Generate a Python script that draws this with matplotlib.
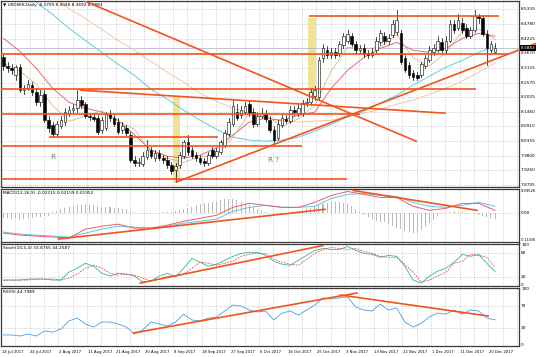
import numpy as np
import matplotlib
matplotlib.use("Agg")
import matplotlib.pyplot as plt
import matplotlib.transforms as mtrans
from matplotlib.patches import Rectangle

plt.rcParams['font.family'] = ['DejaVu Sans']

# ---------------- data ----------------
date_labels = ["14 Jul 2017", "24 Jul 2017", "2 Aug 2017", "11 Aug 2017", "21 Aug 2017",
               "30 Aug 2017", "8 Sep 2017", "18 Sep 2017", "27 Sep 2017", "6 Oct 2017",
               "16 Oct 2017", "25 Oct 2017", "3 Nov 2017", "13 Nov 2017", "22 Nov 2017",
               "1 Dec 2017", "11 Dec 2017", "20 Dec 2017"]
bars_per_label = 7

opens = [8.352, 8.318, 8.311, 8.284, 8.314, 8.228, 8.235, 8.247, 8.220, 8.182,
         8.213, 8.114, 8.096, 8.062, 8.092, 8.107, 8.141, 8.152, 8.160, 8.190,
         8.175, 8.130, 8.126, 8.122, 8.077, 8.084, 8.137, 8.122, 8.107, 8.077,
         8.084, 8.058, 7.963, 7.952, 7.948, 7.975, 8.001, 7.971, 7.990, 7.971,
         7.963, 7.944, 7.926, 7.944, 7.978, 8.031, 8.001, 7.982, 7.971, 7.960,
         7.952, 8.001, 7.978, 7.994, 8.020, 8.062, 8.099, 8.145, 8.133, 8.145,
         8.175, 8.145, 8.099, 8.130, 8.137, 8.114, 8.077, 8.046, 8.096, 8.118,
         8.111, 8.152, 8.141, 8.141, 8.179, 8.182, 8.205, 8.201, 8.348, 8.379,
         8.360, 8.371, 8.367, 8.398, 8.416, 8.432, 8.401, 8.379, 8.386, 8.367,
         8.360, 8.379, 8.409, 8.432, 8.416, 8.435, 8.447, 8.443, 8.348, 8.322,
         8.292, 8.284, 8.284, 8.318, 8.341, 8.371, 8.379, 8.409, 8.379, 8.416,
         8.477, 8.462, 8.484, 8.462, 8.432, 8.454, 8.507, 8.500, 8.439, 8.379,
         8.3709]
highs = [8.364, 8.333, 8.326, 8.322, 8.326, 8.247, 8.265, 8.258, 8.235, 8.228,
         8.228, 8.130, 8.107, 8.111, 8.130, 8.160, 8.167, 8.175, 8.228, 8.205,
         8.182, 8.141, 8.141, 8.133, 8.126, 8.145, 8.152, 8.133, 8.122, 8.107,
         8.096, 8.069, 7.978, 7.971, 7.994, 8.039, 8.012, 8.001, 8.001, 7.982,
         7.978, 7.956, 7.952, 7.994, 8.039, 8.058, 8.012, 7.994, 7.982, 7.971,
         7.994, 8.012, 8.009, 8.039, 8.077, 8.122, 8.190, 8.175, 8.167, 8.182,
         8.190, 8.160, 8.145, 8.160, 8.152, 8.130, 8.092, 8.114, 8.137, 8.133,
         8.167, 8.167, 8.175, 8.190, 8.198, 8.235, 8.243, 8.352, 8.401, 8.394,
         8.386, 8.386, 8.416, 8.443, 8.454, 8.443, 8.416, 8.398, 8.401, 8.379,
         8.386, 8.428, 8.454, 8.447, 8.439, 8.492, 8.530, 8.454, 8.360, 8.333,
         8.303, 8.296, 8.333, 8.360, 8.394, 8.401, 8.432, 8.424, 8.432, 8.492,
         8.492, 8.518, 8.500, 8.477, 8.469, 8.530, 8.518, 8.511, 8.454, 8.416,
         8.4048]
lows = [8.303, 8.296, 8.288, 8.265, 8.220, 8.213, 8.228, 8.209, 8.171, 8.167,
        8.107, 8.069, 8.050, 8.054, 8.084, 8.096, 8.130, 8.141, 8.145, 8.160,
        8.122, 8.114, 8.111, 8.062, 8.065, 8.077, 8.111, 8.092, 8.062, 8.065,
        8.054, 7.956, 7.941, 7.941, 7.941, 7.967, 7.971, 7.960, 7.963, 7.952,
        7.933, 7.910, 7.884, 7.933, 7.971, 7.982, 7.971, 7.960, 7.948, 7.941,
        7.944, 7.971, 7.971, 7.986, 8.012, 8.054, 8.092, 8.114, 8.122, 8.137,
        8.130, 8.088, 8.092, 8.122, 8.107, 8.069, 8.028, 8.039, 8.088, 8.103,
        8.103, 8.133, 8.130, 8.130, 8.167, 8.171, 8.190, 8.190, 8.333, 8.348,
        8.348, 8.348, 8.356, 8.386, 8.405, 8.394, 8.364, 8.367, 8.352, 8.348,
        8.352, 8.367, 8.398, 8.401, 8.401, 8.428, 8.435, 8.326, 8.296, 8.273,
        8.265, 8.265, 8.277, 8.311, 8.333, 8.360, 8.371, 8.367, 8.364, 8.409,
        8.443, 8.454, 8.443, 8.424, 8.424, 8.447, 8.484, 8.432, 8.322, 8.371,
        8.3692]
closes = [8.318, 8.311, 8.303, 8.314, 8.228, 8.235, 8.250, 8.220, 8.182, 8.209,
          8.114, 8.084, 8.062, 8.099, 8.114, 8.145, 8.152, 8.160, 8.190, 8.171,
          8.130, 8.126, 8.118, 8.069, 8.114, 8.137, 8.122, 8.099, 8.069, 8.092,
          8.065, 7.963, 7.952, 7.956, 7.978, 8.001, 7.978, 7.990, 7.971, 7.963,
          7.944, 7.922, 7.941, 7.982, 8.031, 7.994, 7.978, 7.971, 7.956, 7.952,
          7.982, 7.978, 7.997, 8.031, 8.065, 8.107, 8.167, 8.122, 8.152, 8.167,
          8.141, 8.099, 8.130, 8.141, 8.118, 8.077, 8.039, 8.099, 8.122, 8.111,
          8.152, 8.145, 8.160, 8.179, 8.182, 8.220, 8.228, 8.341, 8.386, 8.360,
          8.371, 8.360, 8.401, 8.432, 8.439, 8.401, 8.379, 8.386, 8.364, 8.360,
          8.371, 8.416, 8.443, 8.416, 8.424, 8.477, 8.492, 8.333, 8.303, 8.284,
          8.277, 8.273, 8.326, 8.348, 8.379, 8.386, 8.416, 8.379, 8.416, 8.477,
          8.454, 8.492, 8.454, 8.432, 8.454, 8.507, 8.500, 8.439, 8.386, 8.401,
          8.3883]

price_levels = [8.5335, 8.4780, 8.4225, 8.3670, 8.3115, 8.2570, 8.2025, 8.1460,
                8.0910, 8.0355, 7.9800, 7.9260, 7.8705]

# moving averages, read every 4th bar
ma_step = 4
ma_fast = [8.330, 8.300, 8.250, 8.170, 8.110, 8.130, 8.150, 8.110, 8.080, 7.990,
           7.970, 7.955, 7.975, 7.985, 8.050, 8.140, 8.135, 8.090, 8.120, 8.170,
           8.300, 8.390, 8.385, 8.390, 8.440, 8.350, 8.320, 8.370, 8.450, 8.460,
           8.420]
ma_mid = [8.424, 8.375, 8.311, 8.235, 8.182, 8.160, 8.145, 8.114, 8.058, 8.001,
          7.978, 7.971, 7.982, 8.009, 8.058, 8.107, 8.122, 8.114, 8.133, 8.145,
          8.235, 8.303, 8.352, 8.386, 8.409, 8.379, 8.371, 8.386, 8.424, 8.443,
          8.432]
ma_cyan = [8.651, 8.609, 8.560, 8.515, 8.462, 8.416, 8.371, 8.326, 8.284, 8.231,
           8.194, 8.152, 8.114, 8.080, 8.050, 8.039, 8.035, 8.039, 8.050, 8.073,
           8.099, 8.126, 8.148, 8.179, 8.209, 8.247, 8.281, 8.315, 8.341, 8.371,
           8.394]
ma_slow = [8.700, 8.662, 8.620, 8.579, 8.537, 8.499, 8.458, 8.416, 8.379, 8.337,
           8.296, 8.258, 8.216, 8.186, 8.160, 8.141, 8.122, 8.111, 8.107, 8.111,
           8.114, 8.126, 8.141, 8.156, 8.175, 8.190, 8.213, 8.235, 8.262, 8.296,
           8.330]

# MACD, read every 4th bar; histogram per bar
macd_main = [-0.0762, -0.0838, -0.0876, -0.0914, -0.0952, -0.0609, -0.0495, -0.0419,
             -0.0571, -0.0571, -0.0457, -0.0305, -0.0190, -0.0076, 0.0228, 0.0381,
             0.0305, 0.0228, 0.0228, 0.0419, 0.0685, 0.0838, 0.0724, 0.0609, 0.0609,
             0.0267, 0.0114, 0.0190, 0.0381, 0.0381, 0.0114]
macd_signal = [-0.0724, -0.0800, -0.0838, -0.0876, -0.0914, -0.0762, -0.0609, -0.0495,
               -0.0533, -0.0571, -0.0495, -0.0381, -0.0305, -0.0228, 0.0076, 0.0228,
               0.0305, 0.0228, 0.0228, 0.0267, 0.0571, 0.0724, 0.0762, 0.0685, 0.0647,
               0.0419, 0.0267, 0.0228, 0.0305, 0.0419, 0.0267]
macd_hist = [-0.018, -0.020, -0.022, -0.020, -0.024, -0.022, -0.020, -0.018, -0.016, -0.015,
             -0.012, -0.010,
             0.005, 0.010, 0.015, 0.020, 0.024, 0.028, 0.030, 0.032, 0.034, 0.032,
             0.030, 0.028, 0.026, 0.025, 0.024, 0.022, 0.020, 0.018, 0.015, 0.010, 0.006,
             0.002, -0.002, -0.004, -0.003, 0.000, 0.003, 0.004, 0.005, 0.006, 0.008,
             0.012, 0.016, 0.020, 0.025, 0.030, 0.034, 0.038, 0.041, 0.044, 0.047,
             0.050, 0.053, 0.055, 0.054, 0.050, 0.045, 0.040, 0.033, 0.025, 0.018, 0.012,
             0.006, 0.002, -0.004, -0.006, -0.004, -0.002, 0.000, 0.003, 0.006,
             0.010, 0.015, 0.020, 0.026, 0.032, 0.037, 0.040, 0.043, 0.045, 0.044,
             0.040, 0.035, 0.028, 0.018,
             0.006, -0.006, -0.015, -0.022, -0.028, -0.032, -0.035, -0.040, -0.048,
             -0.055, -0.062, -0.068, -0.072, -0.076, -0.074, -0.066, -0.052, -0.038,
             -0.024, -0.012, -0.004, 0.002, 0.006, 0.008, 0.006, 0.004, 0.002, 0.000,
             -0.004, -0.008, -0.012, -0.016, -0.019, -0.021]

# Stochastic and RSI, read every 2nd bar
osc_step = 2
stoch_k = [12.5, 12.5, 12.5, 15, 15, 15, 12.5, 12.5, 32.5, 42.5,
           55, 47.5, 30, 22.5, 30, 27.5, 22.5, 7.5, 10, 22.5,
           30, 20, 42.5, 67.5, 57.5, 47.5, 52.5, 62.5, 72.5, 80,
           82.5, 82.5, 75, 60, 52.5, 50, 62.5, 75, 87.5, 92.5,
           90, 90, 97.5, 87.5, 80, 77.5, 70, 75, 72.5, 47.5,
           12.5, 5, 22.5, 35, 42.5, 57.5, 77.5, 72.5, 77.5, 55,
           34]
stoch_d = [12.5, 12.5, 12.5, 12.5, 15, 15, 15, 12.5, 17.5, 27.5,
           42.5, 50, 42.5, 30, 25, 27.5, 25, 17.5, 10, 15,
           22.5, 22.5, 27.5, 42.5, 57.5, 55, 50, 55, 60, 72.5,
           77.5, 80, 80, 65, 57.5, 52.5, 50, 65, 80, 90,
           95, 92.5, 90, 92.5, 85, 80, 72.5, 70, 70, 52.5,
           32.5, 7.5, 12.5, 22.5, 32.5, 55, 60, 77.5, 75, 70,
           44]
rsi = [17.9, 17.9, 16, 19.6, 16, 25, 23, 28.6, 42.9, 48.2,
       37.5, 32, 41, 41, 37.5, 32, 19.6, 26.8, 41, 37.5,
       34, 41, 55, 44.6, 42.9, 48, 50, 60.7, 71.4, 69.6,
       62.5, 59, 60.7, 44.6, 57, 60.7, 53.6, 62.5, 71.4, 84,
       82, 84, 85.7, 67.9, 62.5, 60.7, 73, 62.5, 66, 41,
       32, 39, 50, 57, 55, 62.5, 55, 62.5, 60.7, 48.2,
       44.8]

# drawn objects (bar index, value)
main_hlines = [(8.507, 74.6, 121.0), (8.364, -1, 123.2), (8.233, -1, 115.4),
               (8.137, -1, 87.1), (8.052, 11.0, 52.4), (8.018, -1, 72.9),
               (7.890, -1, 83.9)]
main_slanted = [((18.8, 8.228), (107.8, 8.141)),
                ((19.5, 8.5675), (100.7, 8.035))]
main_support = ((42.2, 7.880), (130.0, 8.405))
yellow_boxes = [(41.5, 43.2, 7.880, 8.201), (74.4, 76.3, 8.201, 8.503)]
macd_lines = [((13.4, -0.0990), (78.5, 0.0152)), ((85.4, 0.0876), (115.6, 0.0114))]
stoch_lines = [((33.4, 5.0), (78.0, 100.0))]
rsi_lines = [((31.7, 21.4), (86.3, 92.9)), ((82.2, 89.3), (118.3, 51.8))]
marks = [(11.5, 7.975, "R"), (64.5, 7.963, "R ?")]

# ---------------- figure ----------------
n = len(closes)
idx = np.arange(n)
ma_idx = np.arange(0, n, ma_step)
osc_idx = np.arange(0, n, osc_step)

W, H = 536, 357
fig = plt.figure(figsize=(W / 100, H / 100), dpi=100)
fig.patch.set_facecolor("white")


def px_axes(top, bottom, left=0.5, right=519):
    return fig.add_axes([left / W, 1 - bottom / H, (right - left) / W, (bottom - top) / H])


ax = px_axes(0.5, 187)
ax_m = px_axes(188.5, 242)
ax_s = px_axes(243.5, 286)
ax_r = px_axes(288, 346)
axes = [ax, ax_m, ax_s, ax_r]

XL = (-0.73, 125.85)
GRID = dict(color="#c4c4c4", lw=0.5, ls=(0, (1.6, 1.6)), zorder=0)
ORANGE = "#F2541B"
FS = 3.1

for a in axes:
    a.set_xlim(*XL)
    a.set_xticks([])
    a.set_yticks([])
    for s in a.spines.values():
        s.set_color("#3a3a3a")
        s.set_linewidth(0.9)
    for g in np.arange(-0.6, XL[1], 3.5):
        a.axvline(g, **GRID)


def rlabel(a, y, s, va="center", fs=FS):
    tr = mtrans.blended_transform_factory(a.transAxes, a.transData)
    a.text(1.004, y, s, transform=tr, fontsize=fs, va=va, ha="left", clip_on=False)


# ---- main price panel ----
ax.set_ylim(7.8614, 8.5675)
for p in price_levels:
    ax.axhline(p, **GRID)
    rlabel(ax, p, f"{p:.4f}")

for (x0, x1, y0, y1) in yellow_boxes:
    ax.add_patch(Rectangle((x0, y0), x1 - x0, y1 - y0, facecolor="#EFE08A",
                           edgecolor="none", alpha=0.9, zorder=1))

ax.axhline(closes[-1], color="#A8B0C0", lw=0.5, zorder=1)

ax.plot(ma_idx, ma_slow, color="#F2BE98", lw=0.6, zorder=2)
ax.plot(ma_idx, ma_cyan, color="#62CDE0", lw=0.7, zorder=2)
ax.plot(ma_idx, ma_mid, color="#E66A74", lw=0.7, zorder=2)
ax.plot(ma_idx, ma_fast, color="#C8B27A", lw=0.5, zorder=2)

for i in idx:
    o, h, l, c = opens[i], highs[i], lows[i], closes[i]
    ax.plot([i, i], [l, h], color="black", lw=0.5, zorder=3)
    bottom = min(o, c)
    height = max(abs(c - o), 0.0015)
    ax.add_patch(Rectangle((i - 0.32, bottom), 0.64, height,
                           facecolor="white" if c >= o else "black",
                           edgecolor="black", lw=0.4, zorder=4))

for (p, x0, x1) in main_hlines:
    ax.plot([x0, x1], [p, p], color=ORANGE, lw=1.2, zorder=5, solid_capstyle="butt")
for (a0, a1) in main_slanted:
    ax.plot([a0[0], a1[0]], [a0[1], a1[1]], color=ORANGE, lw=1.2, zorder=5)
ax.plot([main_support[0][0], main_support[1][0]], [main_support[0][1], main_support[1][1]],
        color=ORANGE, lw=1.2, zorder=5, clip_on=False)

for (x, y, s) in marks:
    ax.text(x, y, s, color="#60805A", fontsize=5.2, ha="left", va="center", zorder=6)

tr = mtrans.blended_transform_factory(ax.transAxes, ax.transData)
ax.text(1.004, closes[-1], f"{closes[-1]:.4f}", transform=tr, fontsize=FS, color="white",
        va="center", ha="left", clip_on=False, zorder=10,
        bbox=dict(boxstyle="square,pad=0.18", fc="black", ec="none"))
ax.text(0.004, 0.985, "\u25BC USDSEK,Daily  8.3709 8.4048 8.3692 8.3883",
        transform=ax.transAxes, fontsize=FS, va="top", ha="left")

# ---- MACD ----
ax_m.set_ylim(-0.11036, 0.09526)
ax_m.axhline(0, **GRID)
ax_m.bar(idx, macd_hist, width=0.25, color="#BBBBBB", zorder=1)
ax_m.plot(ma_idx, macd_signal, color="#5EC4E6", lw=0.7, zorder=2)
ax_m.plot(ma_idx, macd_main, color="#E8606A", lw=0.7, zorder=2)
for (a0, a1) in macd_lines:
    ax_m.plot([a0[0], a1[0]], [a0[1], a1[1]], color=ORANGE, lw=1.2, zorder=5)
rlabel(ax_m, 0.09526, "0.09526", va="top", fs=2.6)
rlabel(ax_m, 0.0, "0.00")
rlabel(ax_m, -0.11036, "-0.11036", va="bottom", fs=2.4)
ax_m.text(0.004, 0.95, "MACD(12,26,9) -0.02215 0.02159 0.01952", transform=ax_m.transAxes,
          fontsize=FS, va="top", ha="left")

# ---- Stochastic ----
ax_s.set_ylim(-2.5, 105)
for lv in (80, 20):
    ax_s.axhline(lv, **GRID)
ax_s.plot(osc_idx, stoch_k, color="#34B5AA", lw=0.6, zorder=2)
ax_s.plot(osc_idx, stoch_d, color="#E04848", lw=0.6, ls=(0, (2, 1.5)), zorder=2)
for (a0, a1) in stoch_lines:
    ax_s.plot([a0[0], a1[0]], [a0[1], a1[1]], color=ORANGE, lw=1.2, zorder=5)
for lv in (100, 80, 20, 0):
    rlabel(ax_s, lv, str(lv))
ax_s.text(0.004, 0.94, "Stoch(10,5,4) 33.8765 44.2587", transform=ax_s.transAxes,
          fontsize=FS, va="top", ha="left")

# ---- RSI ----
ax_r.set_ylim(-1.8, 101.8)
for lv in (70, 30):
    ax_r.axhline(lv, **GRID)
ax_r.plot(osc_idx, rsi, color="#4C9EE6", lw=0.6, zorder=2)
for (a0, a1) in rsi_lines:
    ax_r.plot([a0[0], a1[0]], [a0[1], a1[1]], color=ORANGE, lw=1.2, zorder=5)
for lv in (100, 70, 30, 0):
    rlabel(ax_r, lv, str(lv))
ax_r.text(0.004, 0.96, "RSI(9) 44.7989", transform=ax_r.transAxes,
          fontsize=FS, va="top", ha="left")

trx = mtrans.blended_transform_factory(ax_r.transData, ax_r.transAxes)
for k, lab in enumerate(date_labels):
    ax_r.text(k * bars_per_label - 0.45, -0.1, lab, transform=trx, fontsize=2.7,
              ha="left", va="center", clip_on=False)

fig.savefig("out.png", dpi=100, facecolor="white")
